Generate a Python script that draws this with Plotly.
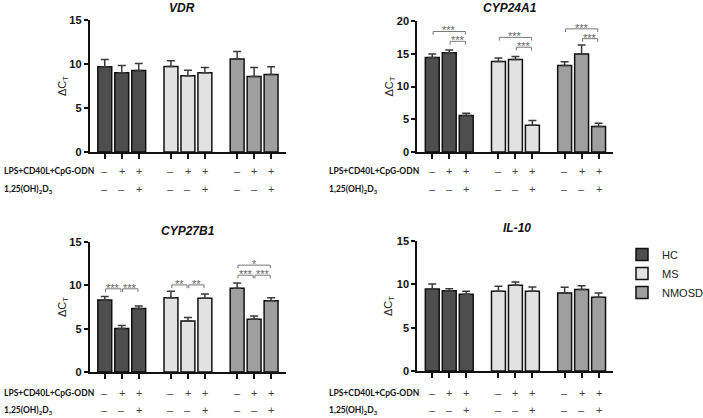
import plotly.graph_objects as go

W, H = 703, 418

groups = ["HC", "MS", "NMOSD"]
colors = ["#4e4e4e", "#e2e2e2", "#9f9f9f"]
positions = [0, 1, 2, 3.9, 4.9, 5.9, 7.8, 8.8, 9.8]

panels = ["VDR", "CYP24A1", "CYP27B1", "IL-10"]

vdr_mean = [9.68, 9.0, 9.27, 9.72, 8.66, 9.0, 10.56, 8.58, 8.81]
vdr_top = [10.52, 9.84, 10.06, 10.37, 9.3, 9.6, 11.43, 9.6, 9.68]

cyp24_mean = [14.44, 15.15, 5.56, 13.83, 14.13, 4.08, 13.21, 14.95, 3.88]
cyp24_top = [14.95, 15.56, 5.92, 14.34, 14.59, 4.8, 13.78, 16.33, 4.39]

cyp27_mean = [8.31, 5.03, 7.34, 8.58, 5.88, 8.5, 9.66, 6.1, 8.23]
cyp27_top = [8.7, 5.37, 7.62, 9.32, 6.3, 9.0, 10.28, 6.46, 8.58]

il10_mean = [9.46, 9.27, 8.85, 9.19, 9.88, 9.19, 9.0, 9.4, 8.5]
il10_top = [10.04, 9.5, 9.2, 9.77, 10.27, 9.7, 9.65, 9.85, 9.0]

means = [vdr_mean, cyp24_mean, cyp27_mean, il10_mean]
tops = [vdr_top, cyp24_top, cyp27_top, il10_top]
y_max = [15, 20, 15, 15]
y_ticks = [[0, 5, 10, 15], [0, 5, 10, 15, 20], [0, 5, 10, 15], [0, 5, 10, 15]]

stim_signs = ["–", "+", "+", "–", "+", "+", "–", "+", "+"]
vitd_signs = ["–", "–", "+", "–", "–", "+", "–", "–", "+"]
row_labels = ["LPS+CD40L+CpG-ODN", "1,25(OH)<sub>2</sub>D<sub>3</sub>"]

# significance brackets: (panel index, bar i, bar j, y level, label)
brackets = [
    (1, 0, 2, 18.4, "***"), (1, 1, 2, 16.9, "***"),
    (1, 3, 5, 17.5, "***"), (1, 4, 5, 16.0, "***"),
    (1, 6, 8, 18.8, "***"), (1, 7, 8, 17.3, "***"),
    (2, 0, 1, 9.6, "***"), (2, 1, 2, 9.6, "***"),
    (2, 3, 4, 10.05, "**"), (2, 4, 5, 10.05, "**"),
    (2, 6, 8, 12.33, "*"), (2, 6, 7, 11.17, "***"), (2, 7, 8, 11.17, "***"),
]

# layout geometry in pixels: (x_left, x_right, y_top, y_bottom)
geom = [(89.5, 285.5, 20, 152), (417, 613, 21, 152),
        (89.5, 285.5, 242, 372), (417, 613, 241, 371)]
title_pos = [(182, 8), (510, 8), (188, 231), (517, 228)]
ylabel_x = [63, 389, 63, 389]
sign_rows = [(171, 189), (171, 189), (393, 410), (393, 410)]
rowlabel_x = [2, 327, 2, 327]

def px(x):
    return x / W

def py(y):
    return 1 - y / H

fig = go.Figure()
annotations = []
shapes = []

for p in range(4):
    xs = "x" if p == 0 else f"x{p+1}"
    ys = "y" if p == 0 else f"y{p+1}"
    for g in range(3):
        sl = slice(g * 3, g * 3 + 3)
        m = means[p][sl]
        t = tops[p][sl]
        fig.add_trace(go.Bar(
            x=positions[sl], y=m, width=0.82,
            marker=dict(color=colors[g], line=dict(color="#111111", width=1.5)),
            error_y=dict(type="data", symmetric=False,
                         array=[b - a for a, b in zip(m, t)],
                         arrayminus=[0, 0, 0], color="#3a3a3a",
                         thickness=1.5, width=4),
            name=groups[g], legendgroup=groups[g], showlegend=(p == 0),
            xaxis=xs, yaxis=ys,
        ))
    x0, x1, yt, yb = geom[p]
    axk = "xaxis" if p == 0 else f"xaxis{p+1}"
    ayk = "yaxis" if p == 0 else f"yaxis{p+1}"
    fig.update_layout(**{
        axk: dict(domain=[px(x0), px(x1)], range=[-0.9, 10.65], automargin=False,
                  anchor=ys, showline=True, linecolor="#111111", linewidth=1.5,
                  ticks="outside", ticklen=5, tickwidth=1.5, tickcolor="#111111",
                  tickvals=positions, showticklabels=False,
                  showgrid=False, zeroline=False, fixedrange=True),
        ayk: dict(domain=[py(yb), py(yt)], range=[0, y_max[p]], automargin=False,
                  anchor=xs, showline=True, linecolor="#111111", linewidth=1.5,
                  ticks="outside", ticklen=4, tickwidth=1.5, tickcolor="#111111",
                  tickvals=y_ticks[p],
                  ticktext=[f"<b>{v}</b>" for v in y_ticks[p]],
                  tickfont=dict(family="Liberation Sans", size=11, color="#111111"),
                  showgrid=False, zeroline=False, fixedrange=True),
    })
    # title
    tx, ty = title_pos[p]
    annotations.append(dict(
        text=f"<b><i>{panels[p]}</i></b>", x=px(tx), y=py(ty), xref="paper", yref="paper",
        showarrow=False, xanchor="center", yanchor="middle",
        font=dict(family="Liberation Sans", size=12, color="#111111")))
    # y label
    annotations.append(dict(
        text="ΔC<sub>T</sub>", x=px(ylabel_x[p]), y=py((yt + yb) / 2),
        xref="paper", yref="paper", showarrow=False, textangle=-90,
        xanchor="center", yanchor="middle",
        font=dict(family="Liberation Sans", size=11, color="#222222")))
    # row labels and signs
    r1, r2 = sign_rows[p]
    for lbl, ry in zip(row_labels, (r1, r2)):
        annotations.append(dict(
            text=f"<b>{lbl}</b>", x=px(rowlabel_x[p]), y=py(ry), xref="paper", yref="paper",
            showarrow=False, xanchor="left", yanchor="middle",
            font=dict(family="Lato", size=8.5, color="#111111")))
    for signs, ry in zip((stim_signs, vitd_signs), (r1, r2)):
        for pos, s in zip(positions, signs):
            annotations.append(dict(
                text=s, x=pos, y=py(ry), xref=xs, yref="paper",
                showarrow=False, xanchor="center", yanchor="middle",
                font=dict(family="Liberation Sans", size=11, color="#444444")))

# brackets
for (p, i, j, yv, lab) in brackets:
    xs = "x" if p == 0 else f"x{p+1}"
    ys = "y" if p == 0 else f"y{p+1}"
    d = y_max[p] * 0.025
    xa = positions[i] + 0.05
    xb = positions[j] - 0.05
    shapes.append(dict(
        type="path", xref=xs, yref=ys,
        path=f"M {xa},{yv - d} L {xa},{yv} L {xb},{yv} L {xb},{yv - d}",
        line=dict(color="#777777", width=1)))
    annotations.append(dict(
        text=lab, x=(xa + xb) / 2, y=yv, xref=xs, yref=ys,
        showarrow=False, xanchor="center", yanchor="middle", yshift=1,
        font=dict(family="Liberation Sans", size=11, color="#666666")))

fig.update_layout(
    width=W, height=H, margin=dict(l=0, r=0, t=0, b=0, autoexpand=False),
    template="none",
    paper_bgcolor="white", plot_bgcolor="white",
    barmode="overlay",
    annotations=annotations, shapes=shapes,
    legend=dict(x=px(622), y=py(240), xanchor="left", yanchor="top",
                font=dict(family="Liberation Sans", size=11, color="#222222"),
                bgcolor="rgba(0,0,0,0)", tracegroupgap=0, itemwidth=30),
)

fig.write_html("out.html", config={"displayModeBar": False},
               post_script="document.body.style.margin='0';")
